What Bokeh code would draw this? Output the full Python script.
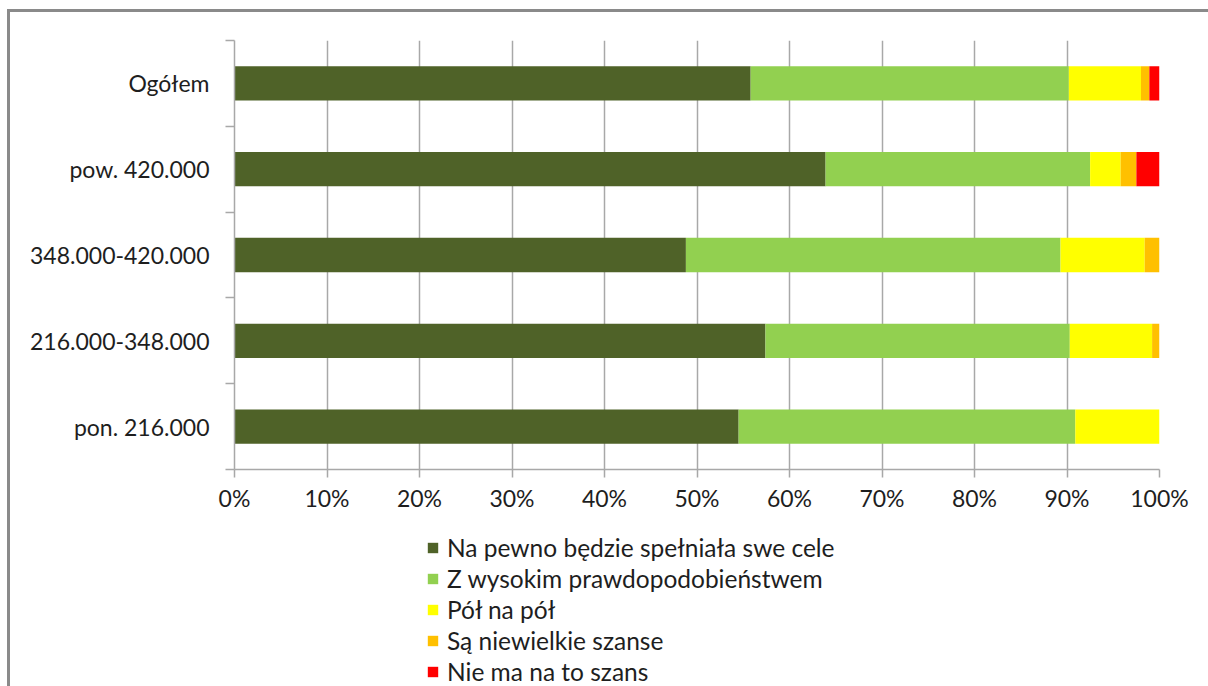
from bokeh.plotting import figure
from bokeh.layouts import column
from bokeh.models import (FixedTicker, ColumnDataSource, Legend, LegendItem, Range1d)
from bokeh.embed import file_html
from bokeh.resources import INLINE

categories = ["Ogółem", "pow. 420.000", "348.000-420.000", "216.000-348.000", "pon. 216.000"]
series = ["Na pewno będzie spełniała swe cele", "Z wysokim prawdopodobieństwem",
          "Pół na pół", "Są niewielkie szanse", "Nie ma na to szans"]
na_pewno = [55.8, 63.9, 48.8, 57.4, 54.5]
z_wysokim = [34.4, 28.6, 40.5, 32.9, 36.4]
pol_na_pol = [7.8, 3.3, 9.1, 8.9, 9.1]
niewielkie = [0.9, 1.7, 1.6, 0.8, 0.0]
nie_ma = [1.1, 2.5, 0.0, 0.0, 0.0]
x_ticks = [0, 10, 20, 30, 40, 50, 60, 70, 80, 90, 100]
colors = ["#4F6228", "#92D050", "#FFFF00", "#FFC000", "#FF0000"]

FONT = "Lato"
FS = "23px"
TEXT = "#1e1e1e"
GRID = "#a8a8a8"

n = len(categories)
ypos = [n - 0.5 - i for i in range(n)]
keys = ["s0", "s1", "s2", "s3", "s4"]
src = ColumnDataSource(dict(y=ypos, s0=na_pewno, s1=z_wysokim, s2=pol_na_pol,
                            s3=niewielkie, s4=nie_ma))

# main chart
p = figure(width=1198, height=502, output_backend="svg", toolbar_location=None,
           x_range=Range1d(0, 100), y_range=Range1d(0, n),
           min_border_left=224, min_border_right=49, min_border_top=28,
           min_border_bottom=40)
p.outline_line_color = None

p.hbar_stack(keys, y="y", height=0.4, color=colors, source=src, line_color=None)

p.xaxis.ticker = FixedTicker(ticks=x_ticks)
p.xaxis.major_label_overrides = {t: f"{t}%" for t in x_ticks}
p.xaxis.axis_line_color = GRID
p.xaxis.axis_line_width = 1.5
p.xaxis.major_tick_line_color = GRID
p.xaxis.major_tick_line_width = 1.5
p.xaxis.major_tick_out = 8
p.xaxis.major_tick_in = 0
p.xaxis.minor_tick_line_color = None
p.xaxis.major_label_standoff = 6
p.xaxis.major_label_text_font = FONT
p.xaxis.major_label_text_font_size = FS
p.xaxis.major_label_text_color = TEXT

p.yaxis.ticker = FixedTicker(ticks=ypos, minor_ticks=list(range(n + 1)))
p.yaxis.major_label_overrides = {y: c for y, c in zip(ypos, categories)}
p.yaxis.axis_line_color = GRID
p.yaxis.axis_line_width = 1.5
p.yaxis.major_tick_line_color = None
p.yaxis.major_tick_out = 0
p.yaxis.minor_tick_line_color = GRID
p.yaxis.minor_tick_line_width = 1.5
p.yaxis.minor_tick_out = 9
p.yaxis.minor_tick_in = 0
p.yaxis.major_label_standoff = 16
p.yaxis.major_label_text_font = FONT
p.yaxis.major_label_text_font_size = FS
p.yaxis.major_label_text_color = TEXT

p.xgrid.grid_line_color = GRID
p.xgrid.grid_line_width = 1.5
p.ygrid.grid_line_color = None

# legend panel (same stacked bars, kept outside its visible range)
p2 = figure(width=1198, height=172, output_backend="svg", toolbar_location=None,
            x_range=Range1d(0, 100), y_range=Range1d(100, 101),
            x_axis_type=None, y_axis_type=None,
            min_border_left=0, min_border_right=0, min_border_top=0,
            min_border_bottom=0)
p2.outline_line_color = None
p2.grid.visible = False
lrs = p2.hbar_stack(keys, y="y", height=0.4, color=colors, source=src, line_color=None)

legend = Legend(items=[LegendItem(label=s, renderers=[r]) for s, r in zip(series, lrs)],
                location=(192, 0), orientation="vertical",
                glyph_width=13, glyph_height=13, label_height=28, spacing=2,
                padding=0, margin=0, border_line_color=None,
                background_fill_alpha=0, label_standoff=8,
                label_text_font=FONT, label_text_font_size="24.5px",
                label_text_color=TEXT)
p2.add_layout(legend, "center")

layout = column(p, p2, spacing=0,
                styles={"border-top": "3px solid #8a8a8a",
                        "border-left": "3px solid #8a8a8a",
                        "margin-top": "9px", "margin-left": "7px"})

open("out.html", "w").write(file_html(layout, INLINE))
